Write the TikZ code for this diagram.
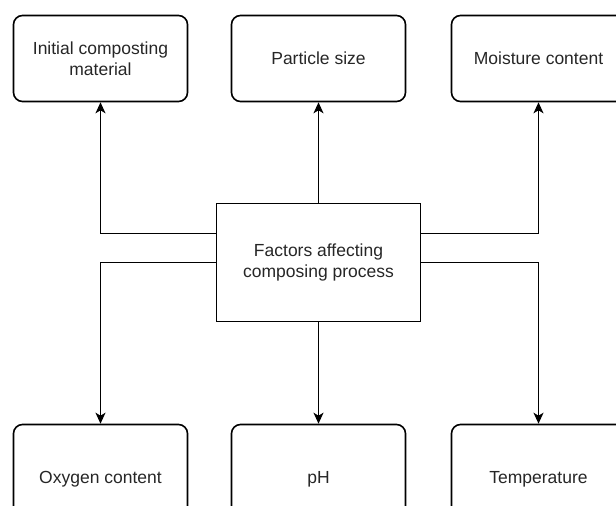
\documentclass[tikz,border=0pt]{standalone}
\usepackage{fontspec}
\setmainfont{Liberation Sans}
\usetikzlibrary{arrows.meta}

\tikzset{
  factor/.style={draw, line width=1.6pt, rounded corners=9pt, minimum width=174pt,
    align=center, text=black!85, font=\fontsize{17.5}{21}\selectfont},
  arr/.style={line width=1.6pt, -{Stealth[length=11pt, width=10pt, inset=3pt]}}
}

\begin{document}
\begin{tikzpicture}[x=1pt, y=-1pt]
    \clip (0,0) rectangle (616,506);
    \useasboundingbox (0,0) rectangle (616,506);

    \coordinate (c1) at (100.5, 58.5);
    \coordinate (c2) at (318.5, 58.5);
    \coordinate (c3) at (538.5, 58.5);
    \coordinate (c4) at (100.5, 479.5);
    \coordinate (c5) at (318.5, 479.5);
    \coordinate (c6) at (538.5, 479.5);

    \node[draw, line width=1.6pt, minimum width=204pt, minimum height=118pt, align=center,
      text=black!85, font=\fontsize{17.5}{21}\selectfont] (fac) at (318.5, 262.5)
      {Factors affecting\\composing process};

    \node[factor, minimum height=86pt] (init) at (c1) {Initial composting\\material};
    \node[factor, minimum height=86pt] (part) at (c2) {Particle size};
    \node[factor, minimum height=86pt] (moist) at (c3) {Moisture content};
    \node[factor, minimum height=110pt] (oxy) at (c4) {Oxygen content};
    \node[factor, minimum height=110pt] (ph) at (c5) {pH};
    \node[factor, minimum height=110pt] (temp) at (c6) {Temperature};

    % upward
    \draw[arr] ([yshift=29pt]fac.west) -| (init.south);
    \draw[arr] (fac.north) -- (part.south);
    \draw[arr] ([yshift=29pt]fac.east) -| (moist.south);
    % downward
    \draw[arr] (fac.west) -| (oxy.north);
    \draw[arr] (fac.south) -- (ph.north);
    \draw[arr] (fac.east) -| (temp.north);
\end{tikzpicture}
\end{document}
